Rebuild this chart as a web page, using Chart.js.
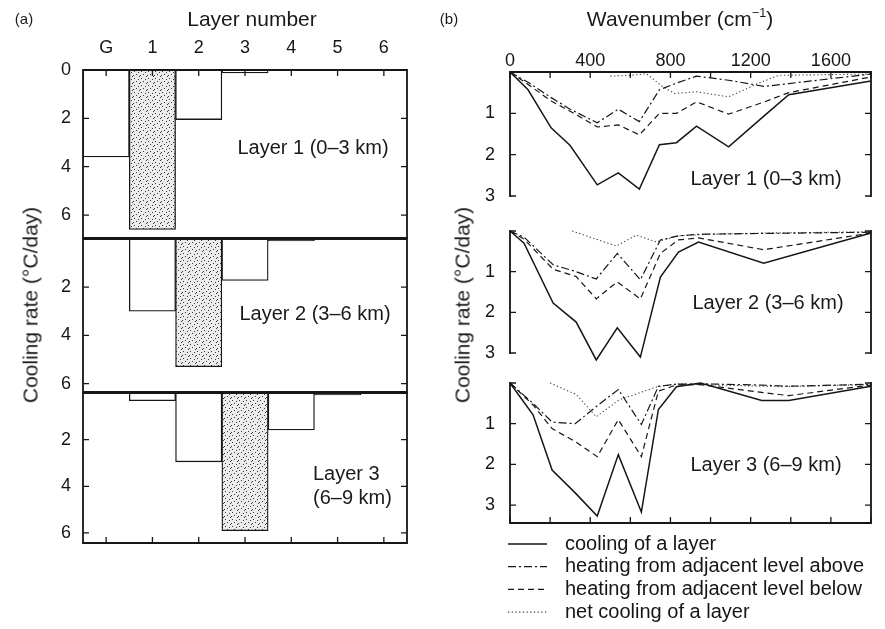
<!DOCTYPE html>
<html>
<head>
<meta charset="utf-8">
<script src="https://cdn.jsdelivr.net/npm/chart.js@4.4.0/dist/chart.umd.min.js"></script>
<style>
  body { margin: 0; background: #fff; }
  #fig { position: relative; width: 885px; height: 629px; overflow: hidden;
         font-family: 'Liberation Sans', Arial, Helvetica, sans-serif; color: #1a1a1a; }
  #fig canvas { position: absolute; left: 0; top: 0; }
  .t { position: absolute; white-space: nowrap; line-height: 1; transform: translate(-50%, -50%); }
  .l { position: absolute; white-space: nowrap; line-height: 1; transform: translate(0, -50%); }
  .v { position: absolute; white-space: nowrap; line-height: 1; transform: translate(-50%, -50%) rotate(-90deg); }
  sup { font-size: 0.6em; vertical-align: 0.7em; }
</style>
</head>
<body>
<div id="fig">
  <canvas id="a1" width="885" height="629"></canvas>
  <canvas id="a2" width="885" height="629"></canvas>
  <canvas id="a3" width="885" height="629"></canvas>
  <canvas id="b1" width="885" height="629"></canvas>
  <canvas id="b2" width="885" height="629"></canvas>
  <canvas id="b3" width="885" height="629"></canvas>

  <div class="t" style="left:24px;top:18px;font-size:15px">(a)</div>
  <div class="t" style="left:252px;top:18px;font-size:21px">Layer number</div>
  <div class="t" style="left:449px;top:18px;font-size:15px">(b)</div>
  <div class="t" style="left:680px;top:18px;font-size:21px">Wavenumber (cm<sup>−1</sup>)</div>

  <div class="v" style="left:30px;top:305px;font-size:21px">Cooling rate (°C/day)</div>
  <div class="v" style="left:462px;top:305px;font-size:21px">Cooling rate (°C/day)</div>

  <div class="t" style="left:313px;top:147px;font-size:20px">Layer 1 (0–3 km)</div>
  <div class="t" style="left:315px;top:313px;font-size:20px">Layer 2 (3–6 km)</div>
  <div class="l" style="left:313px;top:473px;font-size:20px">Layer 3</div>
  <div class="l" style="left:313px;top:497px;font-size:20px">(6–9 km)</div>

  <div class="t" style="left:766px;top:178px;font-size:20px">Layer 1 (0–3 km)</div>
  <div class="t" style="left:768px;top:302px;font-size:20px">Layer 2 (3–6 km)</div>
  <div class="t" style="left:766px;top:464px;font-size:20px">Layer 3 (6–9 km)</div>
</div>

<script>
// ---- panel (a): cooling rate by layer (°C/day) ----
const layerCats = ['G', '1', '2', '3', '4', '5', '6'];
const layer1Rates = [3.6, 6.6, 2.05, 0.12, 0, 0, 0];
const layer2Rates = [0, 3.0, 5.3, 1.72, 0.08, 0, 0];
const layer3Rates = [0, 0.33, 2.95, 5.9, 1.58, 0.08, 0];

// ---- panel (b): spectral cooling (°C/day per band) ----
const wnL1 = [0, 90, 205, 300, 435, 540, 645, 745, 830, 930, 1090, 1270, 1390, 1800];
const coolL1 = [0, 0.43, 1.35, 1.78, 2.73, 2.44, 2.83, 1.76, 1.71, 1.31, 1.81, 1.05, 0.55, 0.22];
const aboveL1 = [0, 0.25, 0.62, 0.9, 1.23, 0.9, 1.2, 0.43, 0.27, 0.1, 0.2, 0.35, 0.28, 0.05];
const belowL1 = [0, 0.3, 0.7, 0.95, 1.33, 1.28, 1.52, 1.0, 1.0, 0.72, 1.02, 0.72, 0.5, 0.12];
const netWnL1 = [500, 600, 680, 760, 820, 930, 1090, 1240, 1340, 1800];
const netL1 = [0.1, 0.08, 0.04, 0.35, 0.52, 0.48, 0.6, 0.27, 0.08, 0.05];

const wnL2 = [0, 70, 215, 330, 430, 535, 650, 750, 840, 940, 1265, 1800];
const coolL2 = [0, 0.3, 1.77, 2.24, 3.17, 2.38, 3.1, 1.13, 0.52, 0.27, 0.79, 0.05];
const aboveL2 = [0, 0.15, 0.83, 1.0, 1.18, 0.55, 1.2, 0.22, 0.12, 0.08, 0.06, 0.03];
const belowL2 = [0, 0.2, 0.94, 1.12, 1.67, 1.25, 1.67, 0.55, 0.22, 0.17, 0.46, 0.05];
const netWnL2 = [310, 530, 630, 730, 840, 1000, 1265, 1800];
const netL2 = [0.0, 0.37, 0.1, 0.27, 0.12, 0.08, 0.05, 0.02];

const wnL3 = [0, 115, 210, 325, 435, 540, 655, 740, 830, 950, 1255, 1390, 1800];
const coolL3 = [0, 0.78, 2.14, 2.7, 3.27, 1.76, 3.17, 0.65, 0.09, 0.0, 0.43, 0.43, 0.08];
const aboveL3 = [0, 0.5, 0.96, 1.0, 0.56, 0.16, 1.02, 0.08, 0.03, 0.02, 0.05, 0.08, 0.03];
const belowL3 = [0, 0.54, 1.12, 1.44, 1.81, 0.9, 1.81, 0.2, 0.05, 0.04, 0.23, 0.31, 0.05];
const netWnL3 = [200, 330, 430, 545, 730, 830, 950, 1340, 1800];
const netL3 = [0.0, 0.28, 0.83, 0.41, 0.1, 0.02, 0.04, 0.09, 0.04];

const seriesNames = ['cooling of a layer', 'heating from adjacent level above',
                     'heating from adjacent level below', 'net cooling of a layer'];

// ---- layout ----
const W = 885, H = 629, AXW = 40, AXH = 30;
const FONT = "'Liberation Sans', Arial, Helvetica, sans-serif";
const INK = '#161616';
Chart.defaults.font.family = FONT;
Chart.defaults.color = INK;

function padFor(box, topAxis) {
  return { left: box.l - AXW, top: box.t - (topAxis ? AXH : 0), right: W - box.r, bottom: H - box.b };
}

// frame + inward tick marks
const framePlugin = {
  id: 'frame',
  afterDatasetsDraw(chart, args, o) {
    const { ctx, chartArea: a, scales } = chart;
    ctx.save();
    ctx.strokeStyle = INK;
    ctx.lineCap = 'square';
    ctx.lineWidth = 1.8;
    ctx.beginPath();
    if (o.sides.includes('t')) { ctx.moveTo(a.left, a.top); ctx.lineTo(a.right, a.top); }
    if (o.sides.includes('b')) { ctx.moveTo(a.left, a.bottom); ctx.lineTo(a.right, a.bottom); }
    ctx.moveTo(a.left, a.top); ctx.lineTo(a.left, a.bottom);
    ctx.moveTo(a.right, a.top); ctx.lineTo(a.right, a.bottom);
    ctx.stroke();

    ctx.lineWidth = 1.3;
    ctx.lineCap = 'butt';
    ctx.beginPath();
    const y = scales.y;
    y.ticks.forEach(t => {
      const py = y.getPixelForValue(t.value);
      ctx.moveTo(a.left, py); ctx.lineTo(a.left + o.len, py);
      ctx.moveTo(a.right, py); ctx.lineTo(a.right - o.len, py);
    });
    const x = scales.x;
    if (o.xTicks) {
      x.ticks.forEach((t, i) => {
        const px = x.getPixelForTick(i);
        if (o.xTicks === 'top') { ctx.moveTo(px, a.top); ctx.lineTo(px, a.top + o.len); }
        else { ctx.moveTo(px, a.bottom); ctx.lineTo(px, a.bottom - o.len); }
      });
    }
    ctx.stroke();
    ctx.restore();
  }
};

const legendPlugin = {
  id: 'lineLegend',
  afterDraw(chart, args, o) {
    if (!o.show) return;
    const ctx = chart.ctx;
    ctx.save();
    ctx.font = o.size + 'px ' + FONT;
    ctx.textBaseline = 'middle';
    ctx.fillStyle = INK;
    chart.data.datasets.forEach((ds, i) => {
      const y = o.y + i * o.step;
      ctx.strokeStyle = ds.borderColor;
      ctx.lineWidth = ds.borderWidth;
      ctx.setLineDash(ds.borderDash || []);
      ctx.beginPath(); ctx.moveTo(o.x, y); ctx.lineTo(o.x + o.len, y); ctx.stroke();
      ctx.setLineDash([]);
      ctx.fillText(ds.label, o.x + o.gap, y);
    });
    ctx.restore();
  }
};

// stipple fill for the layer's own bar
function makeStipple() {
  const c = document.createElement('canvas');
  c.width = 7; c.height = 7;
  const g = c.getContext('2d');
  g.fillStyle = '#ececec'; g.fillRect(0, 0, 7, 7);
  g.fillStyle = '#3a3a3a';
  [[1, 1], [5, 2], [3, 4], [0, 5], [6, 6]].forEach(p => g.fillRect(p[0], p[1], 1, 1));
  return g.createPattern(c, 'repeat');
}
const stipple = makeStipple();

function fixW(s) { s.width = AXW; s.paddingTop = 0; s.paddingBottom = 0; }

function barPanel(id, rates, own, box, yMax, xPos) {
  const topAxis = xPos === 'top';
  new Chart(document.getElementById(id), {
    type: 'bar',
    data: {
      labels: layerCats,
      datasets: [{
        data: rates,
        backgroundColor: rates.map((v, i) => i === own ? stipple : '#ffffff'),
        borderColor: INK,
        borderWidth: 1.3,
        borderSkipped: 'start',
        barPercentage: 1,
        categoryPercentage: 1
      }]
    },
    options: {
      responsive: false, animation: false, events: [],
      layout: { padding: padFor(box, topAxis) },
      plugins: {
        legend: { display: false }, tooltip: { enabled: false },
        frame: { sides: 'tb', len: 6, xTicks: xPos },
        lineLegend: { show: false }
      },
      scales: {
        x: {
          position: topAxis ? 'top' : 'bottom',
          grid: { display: false, drawTicks: false }, border: { display: false },
          ticks: { display: topAxis, padding: 11, font: { size: 18 }, maxRotation: 0 },
          afterFit(s) { s.height = topAxis ? AXH : 0; s.paddingLeft = 0; s.paddingRight = 0; }
        },
        y: {
          reverse: true, min: 0, max: yMax,
          grid: { display: false, drawTicks: false }, border: { display: false },
          ticks: { stepSize: 2, includeBounds: false, padding: 12, font: { size: 18 },
                   callback: v => (v === 0 && !topAxis) ? '' : v },
          afterFit: fixW
        }
      }
    },
    plugins: [framePlugin, legendPlugin]
  });
}

const styles = [
  { borderDash: [], borderWidth: 1.5, borderColor: INK },
  { borderDash: [8, 3, 2, 3], borderWidth: 1.2, borderColor: INK },
  { borderDash: [6, 4], borderWidth: 1.2, borderColor: INK },
  { borderDash: [1.3, 2.4], borderWidth: 1.1, borderColor: '#444' }
];

function pts(xs, ys) { return xs.map((x, i) => ({ x: x, y: ys[i] })); }

function linePanel(id, series, box, yMax, xPos, withLegend) {
  const topAxis = xPos === 'top';
  new Chart(document.getElementById(id), {
    type: 'line',
    data: {
      datasets: series.map((d, i) => Object.assign({
        label: seriesNames[i], data: d, pointRadius: 0, tension: 0, fill: false, clip: false
      }, styles[i]))
    },
    options: {
      responsive: false, animation: false, events: [],
      layout: { padding: padFor(box, topAxis) },
      plugins: {
        legend: { display: false }, tooltip: { enabled: false },
        frame: { sides: topAxis ? 't' : (xPos === 'bottom' ? 'b' : ''), len: 6, xTicks: xPos },
        lineLegend: { show: withLegend, x: 508, y: 544, step: 22.7, len: 39, gap: 57, size: 20 }
      },
      scales: {
        x: {
          type: 'linear', min: 0, max: 1800,
          position: topAxis ? 'top' : 'bottom',
          grid: { display: false, drawTicks: false }, border: { display: false },
          ticks: { display: topAxis, stepSize: 200, autoSkip: false, maxRotation: 0, padding: 0,
                   font: { size: 18 }, callback: v => v % 400 === 0 ? v : '' },
          afterFit(s) { s.height = topAxis ? AXH : 0; s.paddingLeft = 0; s.paddingRight = 0; }
        },
        y: {
          reverse: true, min: 0, max: yMax,
          grid: { display: false, drawTicks: false }, border: { display: false },
          ticks: { stepSize: 1, includeBounds: false, padding: 15, font: { size: 18 },
                   callback: v => v === 0 ? '' : v },
          afterFit: fixW
        }
      }
    },
    plugins: [framePlugin, legendPlugin]
  });
}

barPanel('a1', layer1Rates, 1, { l: 83, t: 70, r: 407, b: 238 }, 6.95, 'top');
barPanel('a2', layer2Rates, 2, { l: 83, t: 239, r: 407, b: 392 }, 6.35, null);
barPanel('a3', layer3Rates, 3, { l: 83, t: 393, r: 407, b: 543 }, 6.43, 'bottom');

linePanel('b1', [pts(wnL1, coolL1), pts(wnL1, aboveL1), pts(wnL1, belowL1), pts(netWnL1, netL1)],
          { l: 510, t: 72, r: 871, b: 196 }, 3, 'top', false);
linePanel('b2', [pts(wnL2, coolL2), pts(wnL2, aboveL2), pts(wnL2, belowL2), pts(netWnL2, netL2)],
          { l: 510, t: 231, r: 871, b: 353 }, 3, null, false);
linePanel('b3', [pts(wnL3, coolL3), pts(wnL3, aboveL3), pts(wnL3, belowL3), pts(netWnL3, netL3)],
          { l: 510, t: 383, r: 871, b: 523 }, 3.44, 'bottom', true);
</script>
</body>
</html>
